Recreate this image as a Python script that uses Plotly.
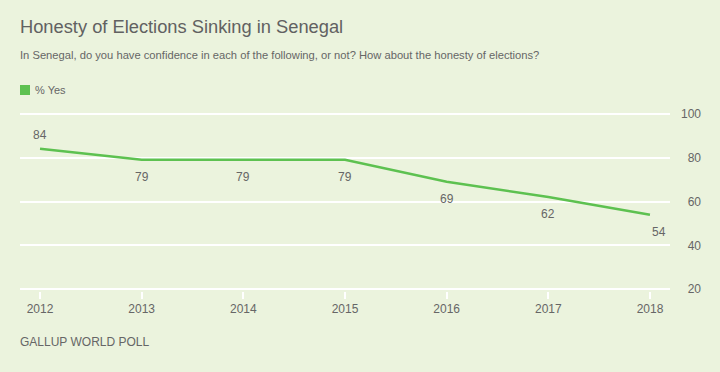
import plotly.graph_objects as go

years = [2012, 2013, 2014, 2015, 2016, 2017, 2018]
pct_yes = [84, 79, 79, 79, 69, 62, 54]
label_pos = ["above", "below", "below", "below", "below", "below", "below right"]
y_ticks = [20, 40, 60, 80, 100]
y_ticktext = ["\u200720", "\u200740", "\u200760", "\u200780", "100"]
series_name = "% Yes"

BG = "#EBF3DD"
GREEN = "#5DC150"
TXT = "#666666"
FONT = "Liberation Sans, Arial, sans-serif"

W, H = 720, 372
ML, MR, MT, MB = 20, 50, 112, 81
PH = H - MT - MB
PW = W - ML - MR


def py(y_px):
    return (H - MB - y_px) / PH


def px(x_px):
    return (x_px - ML) / PW


fig = go.Figure()
fig.add_trace(go.Scatter(
    x=years, y=pct_yes, mode="lines", name=series_name,
    line=dict(color=GREEN, width=2.5),
    showlegend=False, cliponaxis=False, hoverinfo="skip",
))

for x, y, p in zip(years, pct_yes, label_pos):
    fig.add_annotation(
        x=x, y=y, text=str(y), showarrow=False,
        yshift=14 if p == "above" else -17,
        xshift=9 if "right" in p else 0,
        font=dict(family=FONT, size=12, color=TXT),
    )

fig.update_layout(
    width=W, height=H,
    paper_bgcolor=BG, plot_bgcolor=BG,
    margin=dict(l=ML, r=MR, t=MT, b=MB),
    font=dict(family=FONT, color=TXT),
    showlegend=False,
    title=dict(
        text="Honesty of Elections Sinking in Senegal",
        x=20 / W, xref="container", xanchor="left",
        y=1 - 26.5 / H, yref="container", yanchor="middle",
        font=dict(family=FONT, size=18.3, color="#616161"),
    ),
    xaxis=dict(
        range=[2011.803, 2018.197], tickvals=years,
        showgrid=False, zeroline=False, showline=False,
        ticks="outside", ticklen=7, tickwidth=2, tickcolor="white",
        tickfont=dict(family=FONT, size=12, color=TXT),
    ),
    yaxis=dict(
        range=[19.2, 100.8], side="right", tickvals=y_ticks, ticktext=y_ticktext,
        showgrid=True, gridcolor="white", gridwidth=2,
        zeroline=False, showline=False, ticks="",
        tickfont=dict(family=FONT, size=12, color=TXT),
        ticklabelstandoff=10,
    ),
)

# legend key
fig.add_shape(
    type="rect", xref="paper", yref="paper",
    x0=px(20), x1=px(30), y0=py(95), y1=py(85),
    fillcolor=GREEN, line=dict(width=0),
)
fig.add_annotation(
    xref="paper", yref="paper", x=px(33), y=py(90), xanchor="left", yanchor="middle",
    text=series_name, showarrow=False, font=dict(family=FONT, size=11, color=TXT),
)

fig.add_annotation(
    xref="paper", yref="paper", x=0, y=py(55), xanchor="left", yanchor="middle", xshift=-2,
    text="In Senegal, do you have confidence in each of the following, or not? How about the honesty of elections?",
    showarrow=False, font=dict(family=FONT, size=11.2, color=TXT),
)
fig.add_annotation(
    xref="paper", yref="paper", x=0, y=py(342), xanchor="left", yanchor="middle", xshift=-2,
    text="GALLUP WORLD POLL", showarrow=False,
    font=dict(family=FONT, size=12, color=TXT, weight=500),
)

fig.write_html("out.html", config={"displayModeBar": False},
               post_script="document.body.style.margin='0';")
